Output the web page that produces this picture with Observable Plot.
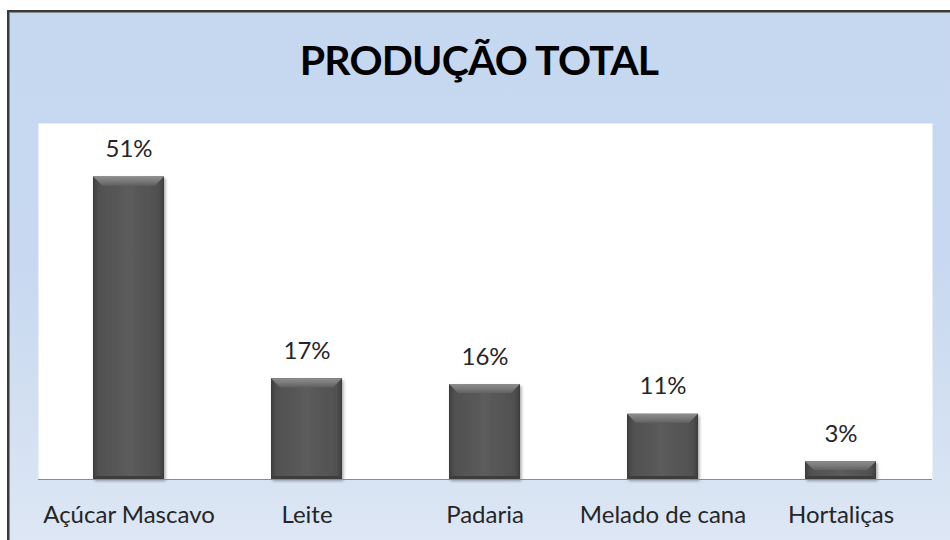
<!DOCTYPE html>
<html>
<head>
<meta charset="utf-8">
<script src="https://cdn.jsdelivr.net/npm/d3@7"></script>
<script src="https://cdn.jsdelivr.net/npm/@observablehq/plot@0.6"></script>
<style>
  html, body { margin: 0; padding: 0; background: #ffffff; overflow: hidden; }
  #frame {
    position: absolute; left: 7px; top: 10px; width: 980px; height: 560px;
    border-left: 2px solid #3a3a3a; border-top: 2px solid #3a3a3a;
    box-shadow: inset 1px 1px 0 #8a8a8a;
    background: linear-gradient(180deg, #c6d8f0 0%, #c7d8f0 45%, #d9e4f3 85%, #dfe8f5 100%);
  }
  #title {
    position: absolute; left: 0; top: 0; width: 958px; text-align: center;
    font-family: Lato, "Open Sans", sans-serif; font-weight: 700; font-size: 41px;
    line-height: 41px; padding-top: 39px; color: #000; letter-spacing: -0.8px;
  }
  #chart { position: absolute; left: 0; top: 0; }
</style>
</head>
<body>
<div id="frame"></div>
<div id="title">PRODUÇÃO TOTAL</div>
<div id="chart"></div>
<script>
const categories = ["Açúcar Mascavo", "Leite", "Padaria", "Melado de cana", "Hortaliças"];
const values = [51, 17, 16, 11, 3];
const valueLabels = ["51%", "17%", "16%", "11%", "3%"];

(function () {
  const data = categories.map((c, i) => ({cat: c, value: values[i], label: valueLabels[i]}));

  const plot = Plot.plot({
    width: 950,
    height: 540,
    marginTop: 123,
    marginBottom: 61,
    marginLeft: 38,
    marginRight: 18,
    style: {background: "transparent", fontFamily: "Lato, 'Open Sans', sans-serif", fontSize: "24px", color: "#262626"},
    x: {domain: categories, paddingInner: 0.6, paddingOuter: 0.3, tickSize: 0, tickPadding: 26, label: null},
    y: {domain: [0, 60], axis: null},
    marks: [
      Plot.frame({fill: "white", stroke: null}),
      Plot.barY(data, {x: "cat", y: "value", fill: "url(#barBody)"}),
      Plot.ruleY([0], {stroke: "#8c8c8c", strokeWidth: 1.2}),
      Plot.text(data, {x: "cat", y: "value", text: "label", lineAnchor: "bottom", dy: -20, fill: "#262626", fontSize: 24})
    ]
  });
  document.getElementById("chart").appendChild(plot);

  // gradients and bevel decorations built from the rendered bars
  const svg = d3.select(plot);
  const defs = svg.insert("defs", ":first-child");
  const bodyGrad = defs.append("linearGradient").attr("id", "barBody").attr("x1", 0).attr("x2", 1).attr("y1", 0).attr("y2", 0);
  [[0, "#3c3c3c"], [0.07, "#505050"], [0.5, "#5c5c5c"], [0.93, "#505050"], [1, "#3c3c3c"]]
    .forEach(([o, c]) => bodyGrad.append("stop").attr("offset", o).attr("stop-color", c));
  const topGrad = defs.append("linearGradient").attr("id", "barTop").attr("x1", 0).attr("x2", 0).attr("y1", 0).attr("y2", 1);
  [[0, "#8e8e8e"], [0.5, "#7a7a7a"], [1, "#626262"]]
    .forEach(([o, c]) => topGrad.append("stop").attr("offset", o).attr("stop-color", c));
  const f = defs.append("filter").attr("id", "shadow").attr("x", "-20%").attr("y", "-20%").attr("width", "150%").attr("height", "150%");
  f.append("feDropShadow").attr("dx", 1.5).attr("dy", 2).attr("stdDeviation", 1.6).attr("flood-color", "#000").attr("flood-opacity", 0.35);

  const barGroup = svg.select('g[aria-label="bar"]');
  barGroup.attr("filter", "url(#shadow)");
  barGroup.selectAll("rect").each(function () {
    const r = d3.select(this);
    const x = +r.attr("x"), y = +r.attr("y"), w = +r.attr("width"), h = +r.attr("height");
    const b = Math.min(9, h / 2);
    const g = d3.select(this.parentNode);
    g.append("polygon")
      .attr("points", `${x},${y} ${x + w},${y} ${x + w - b},${y + b} ${x + b},${y + b}`)
      .attr("fill", "url(#barTop)");
    g.append("polygon")
      .attr("points", `${x},${y + h} ${x + w},${y + h} ${x + w - 3},${y + h - 3} ${x + 3},${y + h - 3}`)
      .attr("fill", "#3e3e3e");
  });

  svg.selectAll('g[aria-label="x-axis tick label"] text, g[aria-label="x-axis"] text').attr("fill", "#262626");
})();
</script>
</body>
</html>
